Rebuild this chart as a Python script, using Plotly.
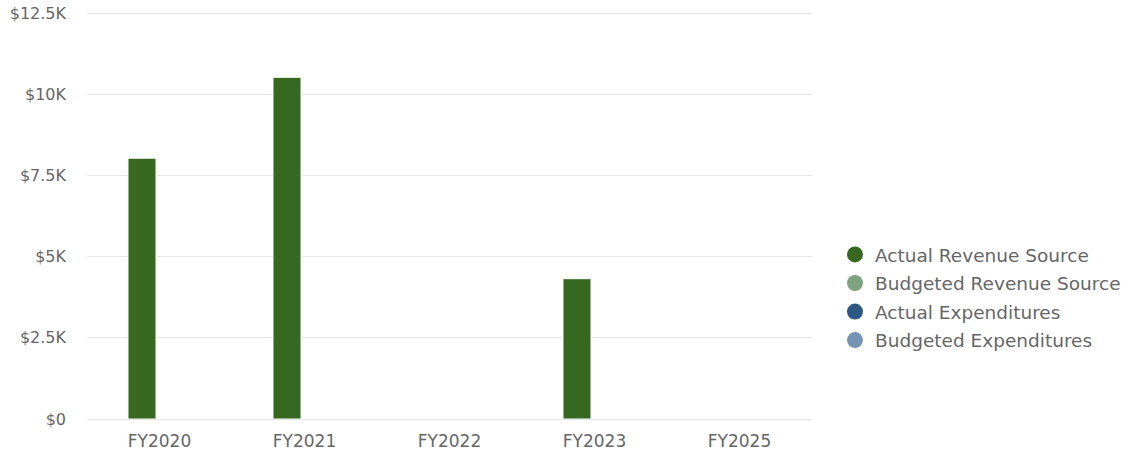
import plotly.graph_objects as go

categories = ["FY2020", "FY2021", "FY2022", "FY2023", "FY2025"]
actual_revenue = [8030, 10520, None, 4320, None]
budgeted_revenue = [None, None, None, None, None]
actual_expenditures = [None, None, None, None, None]
budgeted_expenditures = [None, None, None, None, None]

series_names = ["Actual Revenue Source", "Budgeted Revenue Source",
                "Actual Expenditures", "Budgeted Expenditures"]
series_values = [actual_revenue, budgeted_revenue, actual_expenditures, budgeted_expenditures]
series_colors = ["#36681f", "#7fa37f", "#2c5882", "#7593b3"]
series_groups = ["rev", "rev", "exp", "exp"]

tick_vals = [0, 2500, 5000, 7500, 10000, 12500]
tick_text = ["$0", "$2.5K", "$5K", "$7.5K", "$10K", "$12.5K"]

FONT = "DejaVu Sans"
TXT = "#666666"

fig = go.Figure()
for name, vals, col, grp in zip(series_names, series_values, series_colors, series_groups):
    fig.add_trace(go.Bar(
        x=categories, y=vals, name=name, offsetgroup=grp,
        marker=dict(color=col, line=dict(color="white", width=1)),
        showlegend=False,
    ))
for i, (name, col) in enumerate(zip(series_names, series_colors)):
    fig.add_trace(go.Scatter(
        x=[None], y=[None], mode="markers", name=name, legendgroup=f"g{i}",
        marker=dict(color=col, size=18, symbol="circle"),
    ))

fig.update_layout(
    width=1127, height=455,
    margin=dict(l=87, r=315, t=11, b=36, autoexpand=False),
    plot_bgcolor="white", paper_bgcolor="white",
    barmode="group", bargap=0.517, bargroupgap=0.2,
    font=dict(family=FONT, color=TXT, size=16),
    legend=dict(x=1.0317, y=0.298, xanchor="left", yanchor="middle",
                font=dict(size=18.5, color=TXT), itemsizing="trace",
                tracegroupgap=1.5, itemwidth=30),
    xaxis=dict(showgrid=False, showline=False, ticks="", automargin=False,
               ticklabelstandoff=10, tickfont=dict(size=17, color=TXT)),
    yaxis=dict(range=[0, 12562], tickvals=tick_vals, ticktext=tick_text,
               showgrid=True, gridcolor="#e6e6e6", gridwidth=1, automargin=False,
               zeroline=True, zerolinecolor="#e6e6e6", zerolinewidth=1,
               showline=False, ticks="", ticklabelstandoff=20,
               ticklabeloverflow="allow",
               tickfont=dict(size=16, color=TXT)),
)

fig.write_html("out.html", config={"displayModeBar": False},
               post_script="document.body.style.margin='0';document.body.style.padding='0';")
